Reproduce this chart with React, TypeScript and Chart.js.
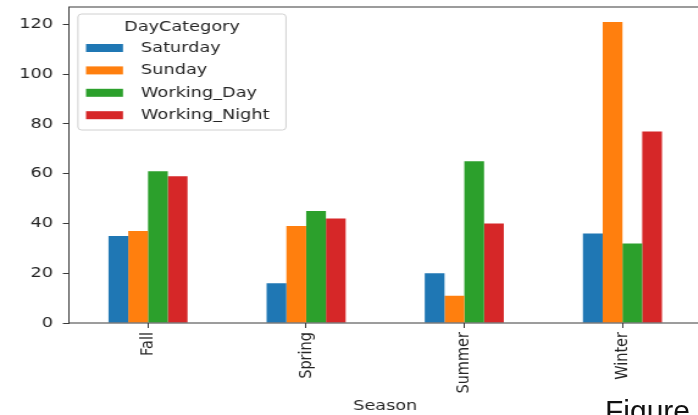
import { useEffect, useRef } from 'react';
import { Chart, registerables } from 'chart.js';

Chart.register(...registerables);

const seasons = ['Fall', 'Spring', 'Summer', 'Winter'];
const saturday = [35, 16, 20, 36];
const sunday = [37, 39, 11, 121];
const workingDay = [61, 45, 65, 32];
const workingNight = [59, 42, 40, 77];
const yTicks = [0, 20, 40, 60, 80, 100, 120];
const seriesNames = ['Saturday', 'Sunday', 'Working_Day', 'Working_Night'];
const seriesColors = ['#1f77b4', '#ff7f0e', '#2ca02c', '#d62728'];
const legendTitle = 'DayCategory';
const xTitle = 'Season';
const caption = 'Figure';

const SX = 1.22;
const FS = 14.5;
const FONT = "'DejaVu Sans', sans-serif";
const TXT = '#262626';
const AX = '#3a3a3a';

const framePlugin = {
  id: 'frame',
  afterDraw(chart: any) {
    const { ctx, chartArea: a } = chart;
    ctx.save();
    ctx.strokeStyle = AX;
    ctx.lineWidth = 1;
    ctx.strokeRect(a.left, a.top, a.right - a.left, a.bottom - a.top);
    ctx.restore();
  },
};

const legendPlugin = {
  id: 'boxLegend',
  afterDraw(chart: any) {
    const { ctx, chartArea: a } = chart;
    const x0 = a.left + 7.4;
    const y0 = a.top + 7;
    const w = 170.5;
    const h = 116;
    ctx.save();
    ctx.beginPath();
    ctx.roundRect(x0, y0, w, h, 3);
    ctx.fillStyle = 'rgba(255,255,255,0.8)';
    ctx.fill();
    ctx.strokeStyle = '#d0d0d0';
    ctx.lineWidth = 1;
    ctx.stroke();
    ctx.font = `${FS}px ${FONT}`;
    ctx.fillStyle = TXT;
    ctx.textBaseline = 'middle';
    ctx.textAlign = 'center';
    ctx.fillText(legendTitle, x0 + w / 2, y0 + 13);
    ctx.textAlign = 'left';
    chart.data.datasets.forEach((ds: any, i: number) => {
      const yc = y0 + 34 + i * 22.4;
      ctx.fillStyle = ds.backgroundColor;
      ctx.fillRect(x0 + 6.6, yc - 4, 30.3, 8);
      ctx.fillStyle = TXT;
      ctx.fillText(ds.label, x0 + 51.7, yc);
    });
    ctx.restore();
  },
};

export default function App() {
  const ref = useRef<HTMLCanvasElement>(null);
  useEffect(() => {
    const seriesData = [saturday, sunday, workingDay, workingNight];
    const chart = new Chart(ref.current as HTMLCanvasElement, {
      type: 'bar',
      data: {
        labels: seasons,
        datasets: seriesNames.map((name, i) => ({
          label: name,
          data: seriesData[i],
          backgroundColor: seriesColors[i],
          borderWidth: 0,
        })),
      },
      options: {
        animation: false,
        responsive: true,
        maintainAspectRatio: false,
        devicePixelRatio: 1,
        layout: { padding: { top: 7, right: 0, left: 0, bottom: 0 } },
        datasets: { bar: { categoryPercentage: 0.5, barPercentage: 1.0 } },
        plugins: {
          legend: { display: false },
          tooltip: { enabled: false },
        },
        scales: {
          x: {
            offset: true,
            grid: {
              display: true,
              offset: false,
              drawOnChartArea: false,
              drawTicks: true,
              tickLength: 5,
              color: AX,
            },
            border: { display: false },
            ticks: {
              minRotation: 90,
              maxRotation: 90,
              autoSkip: false,
              padding: 4,
              color: TXT,
              font: { family: FONT, size: FS },
            },
            title: {
              display: true,
              text: xTitle,
              color: TXT,
              font: { family: FONT, size: FS },
              padding: 0,
            },
            afterFit: (s: any) => {
              s.height = 92;
              s.paddingLeft = 0;
              s.paddingRight = 0;
            },
          },
          y: {
            min: 0,
            max: 127,
            grid: {
              display: true,
              drawOnChartArea: false,
              drawTicks: true,
              tickLength: 5,
              color: AX,
            },
            border: { display: false },
            ticks: {
              padding: 8,
              color: TXT,
              font: { family: FONT, size: FS },
            },
            afterBuildTicks: (s: any) => {
              s.ticks = yTicks.map((v) => ({ value: v }));
            },
            afterFit: (s: any) => {
              s.width = 56.5;
              s.paddingTop = 0;
              s.paddingBottom = 0;
            },
          },
        },
      } as any,
      plugins: [framePlugin, legendPlugin],
    });
    return () => chart.destroy();
  }, []);

  return (
    <div
      style={{
        position: 'fixed',
        left: 0,
        top: 0,
        width: 698,
        height: 415,
        overflow: 'hidden',
        background: '#ffffff',
      }}
    >
      <div
        style={{
          position: 'absolute',
          left: 0,
          top: 0,
          width: 575,
          height: 415,
          transform: `scaleX(${SX})`,
          transformOrigin: '0 0',
        }}
      >
        <canvas ref={ref} />
      </div>
      <span
        style={{
          position: 'absolute',
          left: 605,
          top: 396,
          fontFamily: "'Liberation Sans', Arial, sans-serif",
          fontSize: 30,
          lineHeight: 1,
          color: '#111111',
          whiteSpace: 'nowrap',
        }}
      >
        {caption}
      </span>
    </div>
  );
}
